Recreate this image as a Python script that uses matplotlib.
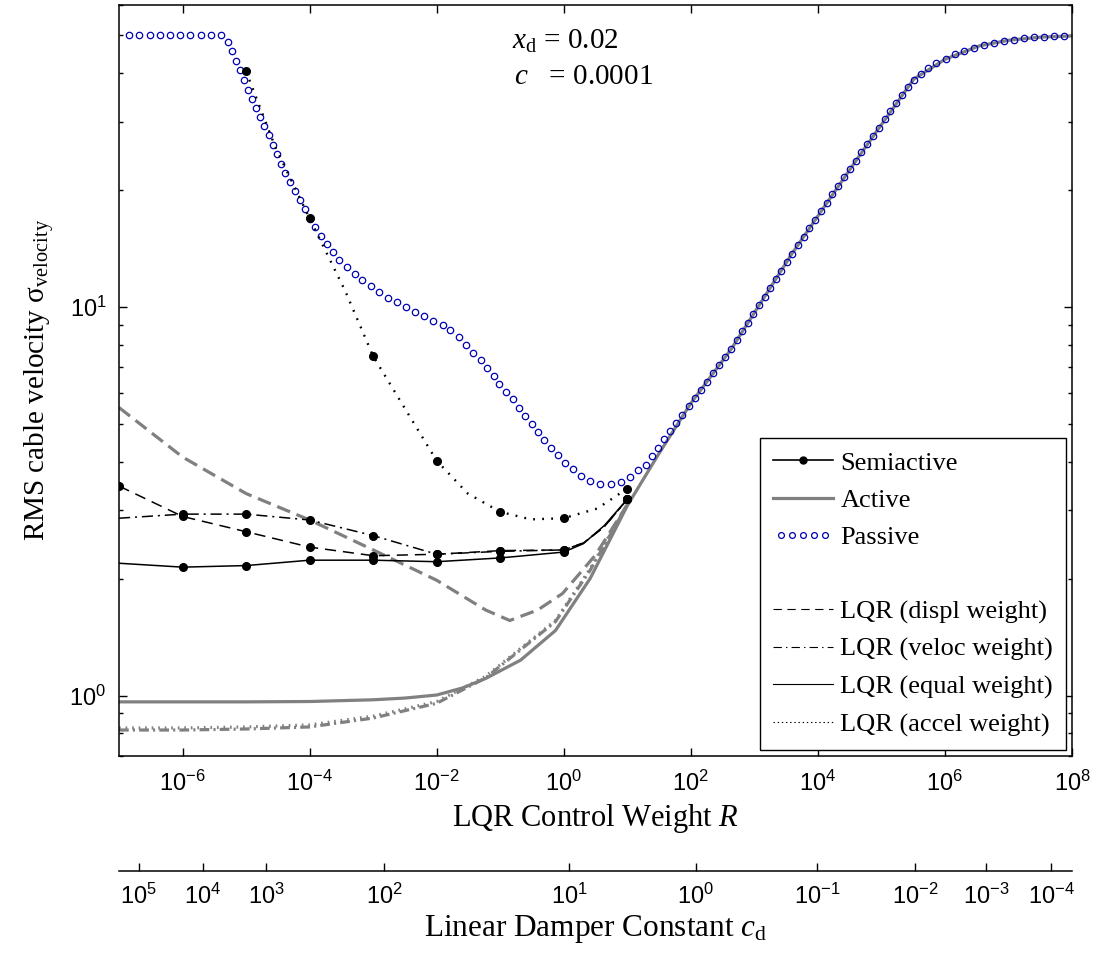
import numpy as np
import matplotlib
matplotlib.use("Agg")
import matplotlib.pyplot as plt
from matplotlib.lines import Line2D
from matplotlib.legend_handler import HandlerLine2D
from matplotlib.ticker import FixedLocator, NullFormatter, LogLocator

plt.rcParams['font.family'] = 'Liberation Serif'
plt.rcParams['mathtext.fontset'] = 'custom'
plt.rcParams['mathtext.rm'] = 'Liberation Serif'
plt.rcParams['mathtext.it'] = 'Liberation Serif:italic'
plt.rcParams['mathtext.sf'] = 'Liberation Sans'
plt.rcParams['lines.scale_dashes'] = False

# ---- data (x values are log10 R) ----
# semiactive, black lines, markers at whole decades
semi_eq_x = [-7, -6, -5, -4, -3, -2, -1, 0, 0.31, 0.64, 1]
semi_eq_y = [2.19, 2.14, 2.16, 2.23, 2.23, 2.21, 2.26, 2.34, 2.46, 2.74, 3.20]
semi_dis_x = [-7, -6, -5, -4, -3, -2, -1, 0, 0.31, 0.64, 1]
semi_dis_y = [3.46, 2.89, 2.64, 2.41, 2.29, 2.31, 2.36, 2.37, 2.47, 2.72, 3.20]
semi_vel_x = [-7, -6, -5, -4, -3, -2, -1, 0, 0.31, 0.64, 1]
semi_vel_y = [2.86, 2.93, 2.93, 2.83, 2.58, 2.31, 2.35, 2.37, 2.47, 2.72, 3.20]
semi_acc_x = [-5, -4.54, -4, -3.44, -3, -2.5, -2, -1.51, -1, -0.52, 0, 0.53, 1]
semi_acc_y = [40.4, 25.8, 16.9, 11.0, 7.47, 5.48, 4.02, 3.31, 2.97, 2.84, 2.86, 3.03, 3.41]

# active (LQR), grey lines
act_eq_x = [-7, -5, -4, -3, -2.5, -2, -1.6, -1.23, -0.68, -0.13, 0.415, 1, 1.5, 2, 2.64, 3.59,
            4.69, 5.51, 6.0, 6.54, 7.0, 7.5, 8]
act_eq_y = [0.963, 0.963, 0.965, 0.975, 0.985, 1.003, 1.045, 1.106, 1.233, 1.47, 2.0, 3.08, 4.2,
            5.65, 7.81, 13.7, 25.0, 38.6, 43.4, 47.0, 48.6, 49.5, 49.85]
act_dis_x = [-7, -6, -5, -4, -3, -2, -1.23, -0.85, -0.41, -0.02, 0.5, 1.0]
act_dis_y = [5.51, 4.11, 3.31, 2.83, 2.37, 1.98, 1.66, 1.56, 1.66, 1.83, 2.3, 3.1]
act_vel_x = [-7, -6, -5, -4, -3, -2, -1.23, -0.13, 0.415, 1.0]
act_vel_y = [0.815, 0.815, 0.82, 0.83, 0.875, 0.955, 1.11, 1.55, 2.1, 3.1]
act_acc_x = [-7, -6, -5, -4, -3, -2, -1.23, -0.13, 0.415, 1.0]
act_acc_y = [0.825, 0.825, 0.83, 0.84, 0.885, 0.965, 1.12, 1.56, 2.12, 3.1]

# passive damper, open circles (log10 R, log10 velocity)
pas_x = [-6.841, -6.680, -6.519, -6.358, -6.197, -6.036, -5.875, -5.714, -5.553, -5.392,
         -5.281, -5.220, -5.160, -5.093, -5.033, -4.967, -4.906, -4.840, -4.778, -4.713,
         -4.647, -4.581, -4.515, -4.449, -4.383, -4.306, -4.229, -4.150, -4.073, -3.991,
         -3.914, -3.814, -3.726, -3.633, -3.534, -3.412, -3.291, -3.170, -3.038, -2.906,
         -2.767, -2.625, -2.486, -2.337, -2.194, -2.051, -1.906, -1.786, -1.649, -1.537,
         -1.427, -1.300, -1.207, -1.097, -1.014, -0.904, -0.805, -0.706, -0.612, -0.507,
         -0.408, -0.309, -0.199, -0.087, 0.023, 0.144, 0.265, 0.419, 0.573, 0.739,
         0.899, 1.036, 1.174, 1.291, 1.387, 1.484, 1.580, 1.676, 1.773, 1.869,
         1.965, 2.061, 2.158, 2.254, 2.350, 2.447, 2.543, 2.639, 2.725, 2.813,
         2.899, 2.986, 3.074, 3.160, 3.247, 3.333, 3.421, 3.508, 3.594, 3.685,
         3.776, 3.867, 3.959, 4.050, 4.141, 4.230, 4.322, 4.413, 4.504, 4.595,
         4.686, 4.777, 4.868, 4.959, 5.051, 5.142, 5.233, 5.324, 5.415, 5.514,
         5.621, 5.738, 5.867, 6.017, 6.158, 6.307, 6.457, 6.614, 6.771, 6.928,
         7.085, 7.242, 7.399, 7.557, 7.714, 7.871]
pas_lv = [1.699, 1.699, 1.699, 1.699, 1.699, 1.699, 1.699, 1.699, 1.699, 1.699,
          1.682, 1.658, 1.633, 1.609, 1.583, 1.559, 1.535, 1.513, 1.488, 1.465,
          1.442, 1.416, 1.393, 1.369, 1.345, 1.322, 1.298, 1.275, 1.251, 1.2275,
          1.206, 1.183, 1.161, 1.142, 1.122, 1.103, 1.086, 1.069, 1.053, 1.039,
          1.024, 1.013, 1.000, 0.987, 0.976, 0.964, 0.953, 0.940, 0.923, 0.901,
          0.882, 0.863, 0.843, 0.822, 0.803, 0.781, 0.762, 0.741, 0.719, 0.698,
          0.678, 0.657, 0.638, 0.618, 0.599, 0.582, 0.565, 0.552, 0.5455, 0.5455,
          0.550, 0.5625, 0.580, 0.594, 0.616, 0.637, 0.659, 0.680, 0.701, 0.722,
          0.744, 0.765, 0.786, 0.808, 0.829, 0.851, 0.872, 0.893, 0.915, 0.938,
          0.960, 0.982, 1.004, 1.026, 1.048, 1.071, 1.093, 1.115, 1.137, 1.159,
          1.181, 1.203, 1.225, 1.247, 1.268, 1.290, 1.312, 1.334, 1.355, 1.377,
          1.399, 1.420, 1.441, 1.462, 1.483, 1.504, 1.525, 1.545, 1.565, 1.583,
          1.600, 1.6145, 1.628, 1.639, 1.650, 1.659, 1.667, 1.674, 1.680, 1.685,
          1.688, 1.692, 1.694, 1.695, 1.697, 1.697]

# secondary axis: damper constant c_d and matching log10 R position
cd_exp = [5, 4, 3, 2, 1, 0, -1, -2, -3, -4]
cd_at_logR = [-6.69, -5.685, -4.68, -2.826, 0.089, 2.079, 3.99, 5.53, 6.65, 7.67]

GREY = (0.5, 0.5, 0.5)
BLUE = '#0000b4'


def R(x):
    return 10.0 ** np.asarray(x, dtype=float)


def decade_idx(xs):
    return [i for i, v in enumerate(xs) if float(v).is_integer()]


fig = plt.figure(figsize=(10.95, 9.55), dpi=100)
ax = fig.add_axes([0.1087, 0.2087, 0.8703, 0.7864])

# active curves (grey)
ax.plot(R(act_eq_x), act_eq_y, color=GREY, lw=2.3, solid_capstyle='butt')
ax.plot(R(act_dis_x), act_dis_y, color=GREY, lw=2.3, ls=(0, (10, 5)))
ax.plot(R(act_vel_x), act_vel_y, color=GREY, lw=2.3, ls=(0, (7, 3, 1.5, 3)))
ax.plot(R(act_acc_x), act_acc_y, color=GREY, lw=2.3, ls=(0, (1.2, 3.5)))

# passive
ax.plot(R(pas_x), R(pas_lv), ls='none', marker='o', ms=4.6, mfc='none', mec=BLUE, mew=0.9)

# semiactive curves (black)
mk = dict(color='k', lw=1.1, marker='o', ms=5.5)
ax.plot(R(semi_eq_x), semi_eq_y, ls='-', markevery=decade_idx(semi_eq_x)[1:], **mk)
ax.plot(R(semi_dis_x), semi_dis_y, ls=(0, (8, 5)), markevery=decade_idx(semi_dis_x), **mk)
ax.plot(R(semi_vel_x), semi_vel_y, ls=(0, (8, 3.5, 1.5, 3.5)), markevery=decade_idx(semi_vel_x)[1:], **mk)
ax.plot(R(semi_acc_x), semi_acc_y, color='k', lw=1.7, ls=(0, (1.3, 5.2)))
ax.plot(R(semi_acc_x), semi_acc_y, ls='none', color='k', marker='o', ms=5.5,
        markevery=decade_idx(semi_acc_x))

ax.set_xscale('log')
ax.set_yscale('log')
ax.set_xlim(1e-7, 1e8)
ax.set_ylim(0.7, 60)
ax.xaxis.set_major_locator(FixedLocator(R(np.arange(-6, 9, 2))))
ax.xaxis.set_minor_locator(FixedLocator([]))
ax.yaxis.set_major_locator(LogLocator(base=10))
ax.yaxis.set_minor_locator(LogLocator(base=10, subs=np.arange(2, 10)))
ax.yaxis.set_minor_formatter(NullFormatter())
ax.tick_params(which='both', direction='in', top=True, right=True, width=1,
               labelsize=17, pad=9)
ax.tick_params(axis='x', pad=11)
ax.tick_params(which='major', length=6)
ax.tick_params(which='minor', length=3)
for lab in ax.get_xticklabels() + ax.get_yticklabels():
    lab.set_fontfamily('Liberation Sans')
for s in ax.spines.values():
    s.set_linewidth(1.1)

ax.set_xlabel('LQR Control Weight $R$', fontsize=22, labelpad=4)
ax.set_ylabel('RMS cable velocity σ$_{\\mathrm{velocity}}$', fontsize=21, labelpad=10)

ax.text(0.412, 0.951, r'$x_{\mathrm{d}}$ = 0.02', transform=ax.transAxes, fontsize=21, va='center')
ax.text(0.414, 0.904, r'$c$   = 0.0001', transform=ax.transAxes, fontsize=21, va='center')

# legend
handles = [
    Line2D([], [], color='k', lw=1.2, marker='o', ms=5),
    Line2D([], [], color=GREY, lw=2.3),
    Line2D([], [], ls='none', marker='o', ms=4.2, mfc='none', mec=BLUE, mew=0.9),
    Line2D([], [], ls='none'),
    Line2D([], [], color='k', lw=0.8, ls=(0, (6, 4))),
    Line2D([], [], color='k', lw=0.8, ls=(0, (6, 3, 1, 3))),
    Line2D([], [], color='k', lw=0.8, ls='-'),
    Line2D([], [], color='k', lw=0.8, ls=(0, (1, 2))),
]
labels = ['Semiactive', 'Active', 'Passive', ' ',
          'LQR (displ weight)', 'LQR (veloc weight)', 'LQR (equal weight)', 'LQR (accel weight)']
leg = ax.legend(handles, labels, loc='upper left', bbox_to_anchor=(760 / 1095, 1 - 438 / 955),
                bbox_transform=fig.transFigure, fontsize=19, frameon=True, fancybox=False,
                edgecolor='k', framealpha=1, handlelength=2.25, handletextpad=0.3,
                labelspacing=0.52, borderpad=0.5, borderaxespad=0,
                handler_map={handles[2]: HandlerLine2D(numpoints=5)}, numpoints=1)
leg.get_frame().set_linewidth(1.0)

# second axis: linear damper constant
ax2 = fig.add_axes([0.1087, (955 - 871) / 955, 0.8703, 1e-4])
ax2.patch.set_visible(False)
for side in ('top', 'left', 'right'):
    ax2.spines[side].set_visible(False)
ax2.spines['bottom'].set_linewidth(1.1)
ax2.set_xscale('log')
ax2.set_xlim(1e-7, 1e8)
ax2.set_yticks([])
ax2.xaxis.set_major_locator(FixedLocator(R(cd_at_logR)))
ax2.xaxis.set_minor_locator(FixedLocator([]))
ax2.set_xticklabels([r'$\mathdefault{10^{%d}}$' % e for e in cd_exp])
ax2.tick_params(which='major', direction='in', length=6, width=1, labelsize=17, pad=9)
for lab in ax2.get_xticklabels():
    lab.set_fontfamily('Liberation Sans')
ax2.set_xlabel('Linear Damper Constant $c_{\\mathrm{d}}$', fontsize=22.5, labelpad=3)

fig.savefig('out.png', dpi=100)
